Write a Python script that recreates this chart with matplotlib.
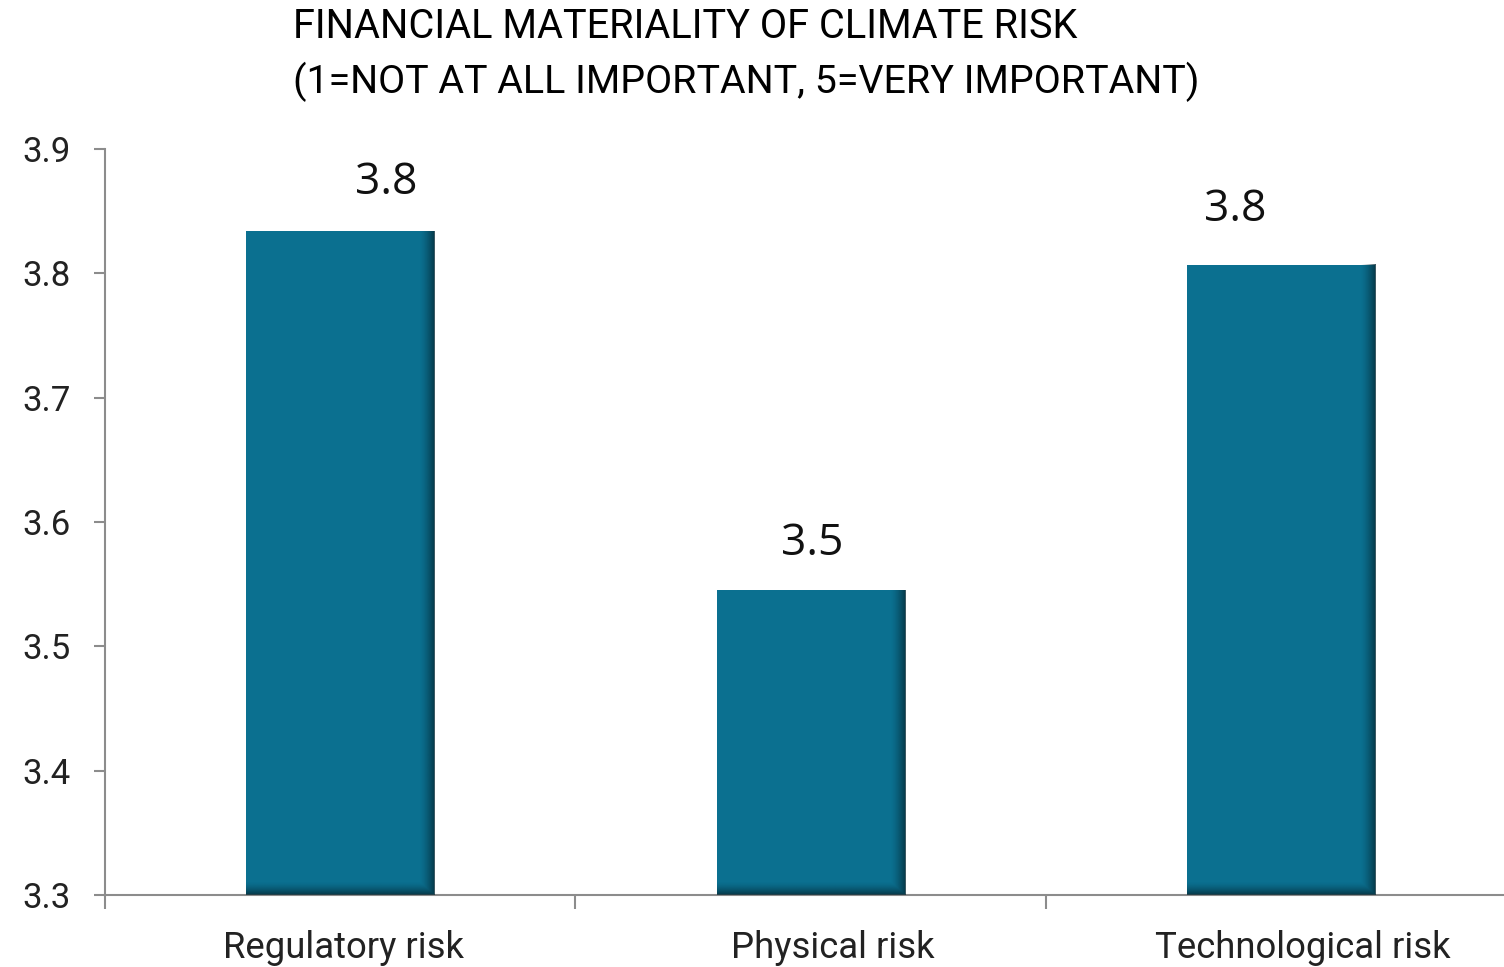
import numpy as np
import matplotlib.pyplot as plt
from matplotlib import font_manager
from matplotlib.transforms import ScaledTranslation

categories = ['Regulatory risk', 'Physical risk', 'Technological risk']
scores = [3.834, 3.545, 3.807]
# label nudges (pixels) as placed in the original
label_dx = [46, 1, -46]
label_dy = [48, 47, 55]
cat_dx = [3, 22, 22]

names = {f.name for f in font_manager.fontManager.ttflist}
narrow = 'Liberation Sans Narrow' if 'Liberation Sans Narrow' in names else 'Roboto'
plt.rcParams['font.family'] = [narrow, 'DejaVu Sans']

bar_color = '#0B7090'
dark = np.array([3, 40, 52]) / 255

fig = plt.figure(figsize=(15.04, 9.67), dpi=100)
ax = fig.add_axes([105 / 1504, 72 / 967, 1411.5 / 1504, 746 / 967])

x = np.arange(len(categories))
bars = ax.bar(x, [s - 3.3 for s in scores], bottom=3.3, width=0.40,
              color=bar_color, zorder=2)

ax.set_xlim(-0.5, 2.5)
ax.set_ylim(3.3, 3.9)
ax.set_yticks(np.arange(3.3, 3.91, 0.1))
ax.set_yticklabels(['%.1f' % v for v in np.arange(3.3, 3.91, 0.1)])

ax.set_xticks([-0.5, 0.5, 1.5])
ax.set_xticklabels([])
ax.set_xticks(x, minor=True)
ax.set_xticklabels(categories, minor=True)
ax.tick_params(axis='x', which='major', length=10, width=1.5, color='#8c8c8c')
ax.tick_params(axis='x', which='minor', length=0, pad=25, labelsize=26.3,
               labelcolor='#222222')
ax.tick_params(axis='y', length=8, width=1.5, color='#8c8c8c', pad=17,
               labelsize=25, labelcolor='#222222')
for lab, dx in zip(ax.get_xticklabels(minor=True), cat_dx):
    lab.set_transform(lab.get_transform() +
                      ScaledTranslation(dx / 100, 0, fig.dpi_scale_trans))

for side in ['top', 'right']:
    ax.spines[side].set_visible(False)
for side in ['left', 'bottom']:
    ax.spines[side].set_color('#8c8c8c')
    ax.spines[side].set_linewidth(1.5)

# shaded right and bottom edges on each bar
fig.canvas.draw()
for b in bars:
    x0, y0 = b.get_x(), b.get_y()
    x1, y1 = x0 + b.get_width(), y0 + b.get_height()
    (px0, py0), (px1, py1) = ax.transData.transform([(x0, y0), (x1, y1)])
    w, h = int(px1 - px0), int(py1 - py0)
    cols = np.arange(w)
    rows = np.arange(h)
    a_r = np.clip((cols - (w - 16)) / 16, 0, 1) ** 1.5
    a_b = np.clip((rows - (h - 14)) / 14, 0, 1) ** 1.5
    alpha = np.maximum(a_r[None, :], a_b[:, None]) * 0.85
    img = np.zeros((h, w, 4))
    img[..., :3] = dark
    img[..., 3] = alpha
    ax.imshow(img, extent=(x0, x1, y0, y1), aspect='auto', zorder=3,
              interpolation='bilinear')

for i, (xi, s) in enumerate(zip(x, scores)):
    ax.annotate('%.1f' % s, (xi, s), xytext=(label_dx[i], label_dy[i]),
                textcoords='offset pixels', ha='center', va='center',
                fontsize=32, color='#111111',
                family=['Open Sans', 'DejaVu Sans'])

ax.set_xlim(-0.5, 2.5)
ax.set_ylim(3.3, 3.9)

fig.text(293 / 1504, 1 - 27 / 967, 'FINANCIAL MATERIALITY OF CLIMATE RISK',
         ha='left', va='center', fontsize=28.6, color='#000000')
fig.text(293 / 1504, 1 - 82 / 967, '(1=NOT AT ALL IMPORTANT, 5=VERY IMPORTANT)',
         ha='left', va='center', fontsize=28.4, color='#000000')

fig.savefig('out.png', dpi=100)
